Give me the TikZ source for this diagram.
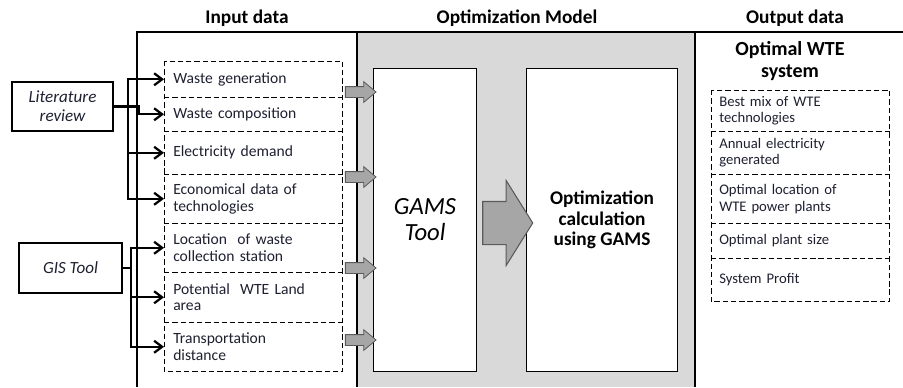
\documentclass[tikz,border=0pt]{standalone}
\usepackage{fontspec}
\setmainfont{Carlito}
\usetikzlibrary{arrows.meta, shapes.arrows}
\definecolor{panelgray}{RGB}{217,217,217}
\definecolor{arrowgray}{RGB}{166,166,166}
\definecolor{edgegray}{RGB}{90,90,90}
\definecolor{textdark}{RGB}{30,32,48}

\begin{document}
\begin{tikzpicture}[x=0.75pt,y=-0.75pt,
  header/.style={font=\fontsize{14.5}{16}\selectfont\bfseries},
  dashline/.style={dash pattern=on 4pt off 2.2pt, line width=0.6pt},
  inrow/.style={anchor=north west, minimum width=133.5pt, text width=120pt, inner xsep=6.75pt,
    align=left, font=\fontsize{11.7}{12.5}\selectfont, text=textdark},
  outrow/.style={anchor=north west, minimum width=133.5pt, text width=121.5pt, inner xsep=6pt,
    align=left, font=\fontsize{11}{12.5}\selectfont, text=textdark},
  srcbox/.style={draw, line width=1.4pt, align=center, inner sep=0pt,
    font=\fontsize{12.8}{14}\selectfont\itshape, text=textdark},
  toolbox/.style={draw, line width=0.8pt, fill=white, anchor=north west, inner sep=0pt, align=center},
  feed/.style={line width=1.7pt, -{Straight Barb[length=6pt,width=9pt]}},
  smallarrow/.style={single arrow, draw=edgegray, fill=arrowgray, line width=0.6pt,
    minimum height=23pt, inner xsep=0pt, inner ysep=3.75pt, text height=0pt, text depth=0pt,
    single arrow head extend=3.75pt, single arrow tip angle=80},
  bigarrow/.style={single arrow, draw=edgegray, fill=arrowgray, line width=0.8pt,
    minimum height=37.5pt, inner xsep=0pt, inner ysep=15.75pt, text height=0pt, text depth=0pt,
    single arrow head extend=15.75pt, single arrow tip angle=116}]
\useasboundingbox (0,0) rectangle (903,387);

% panels
\fill[panelgray] (357,32) rectangle (695,387);
\draw[line width=1.5pt] (137,387) -- (137,32) -- (903,32);
\draw[line width=1.5pt] (357,32) -- (357,387);
\draw[line width=1.5pt] (695,32) -- (695,387);

\node[header] (hin) at (247,18) {Input data};
\node[header] (hopt) at (517,18) {Optimization Model};
\node[header] (hout) at (795,18) {Output data};

% input data
\node[inrow, minimum height=27pt] (in1) at (164,61) {Waste generation};
\node[inrow, minimum height=25.5pt] (in2) at (164,97) {Waste composition};
\node[inrow, minimum height=32.25pt] (in3) at (164,131) {Electricity demand};
\node[inrow, minimum height=36.75pt] (in4) at (164,174) {Economical data of\\technologies};
\node[inrow, minimum height=36.75pt] (in5) at (164,223) {Location~ of waste\\collection station};
\node[inrow, minimum height=37.5pt] (in6) at (164,272) {Potential~ WTE Land\\area};
\node[inrow, minimum height=36.75pt] (in7) at (164,322) {Transportation\\distance};
\draw[dashline] (in1.north west) rectangle (in7.south east);
\foreach \r in {1,...,6}
  \draw[dashline] (in\r.south west) -- (in\r.south east);

% sources
\node[srcbox, minimum width=75.75pt, minimum height=36.75pt] (lit) at (62.5,106.5) {Literature\\review};
\node[srcbox, minimum width=77.25pt, minimum height=37.5pt] (gis) at (70.5,268) {GIS Tool};

\coordinate (litjoin) at (128,106.5);
\coordinate (gisjoin) at (131,268);
\draw[line width=1.7pt] (lit.east) -- (litjoin);
\draw[feed] (litjoin) |- (in1.west);
\draw[feed] (lit.east) -| ++(25,7) |- (in2.west);
\draw[feed] (litjoin) |- (in3.west);
\draw[feed] (litjoin) |- (in4.west);
\draw[line width=1.7pt] (gis.east) -- (gisjoin);
\draw[feed] (gisjoin) |- (in5.west);
\draw[feed] (gisjoin) |- (in6.west);
\draw[feed] (gisjoin) |- (in7.west);

% optimization model
\node[toolbox, minimum width=77.25pt, minimum height=227.25pt,
  font=\fontsize{18.5}{19.5}\selectfont\itshape] (gams) at (373,68) {GAMS\\Tool};
\node[toolbox, minimum width=113.25pt, minimum height=227.25pt,
  font=\fontsize{14.5}{15.5}\selectfont\bfseries] (opt) at (526,68) {Optimization\\calculation\\using GAMS};

\node[smallarrow] (a1) at (357.5,92) {};
\node[smallarrow] (a2) at (357.5,177) {};
\node[smallarrow] (a3) at (357.5,268) {};
\node[smallarrow] (a4) at (357.5,340) {};
\node[bigarrow] (abig) at (501,223) {};

% output data
\node[font=\fontsize{15}{16.5}\selectfont\bfseries, align=center] (wte) at (790,61) {Optimal WTE\\system};
\node[outrow, minimum height=30.75pt] (out1) at (711,90) {Best mix of WTE\\technologies};
\node[outrow, minimum height=32.25pt] (out2) at (711,131) {Annual electricity\\generated};
\node[outrow, minimum height=36.75pt] (out3) at (711,174) {Optimal location of\\WTE power plants};
\node[outrow, minimum height=26.25pt] (out4) at (711,223) {Optimal plant size};
\node[outrow, minimum height=32.25pt] (out5) at (711,258) {System Profit};
\draw[dashline] (out1.north west) rectangle (out5.south east);
\foreach \r in {1,...,4}
  \draw[dashline] (out\r.south west) -- (out\r.south east);
\end{tikzpicture}
\end{document}
